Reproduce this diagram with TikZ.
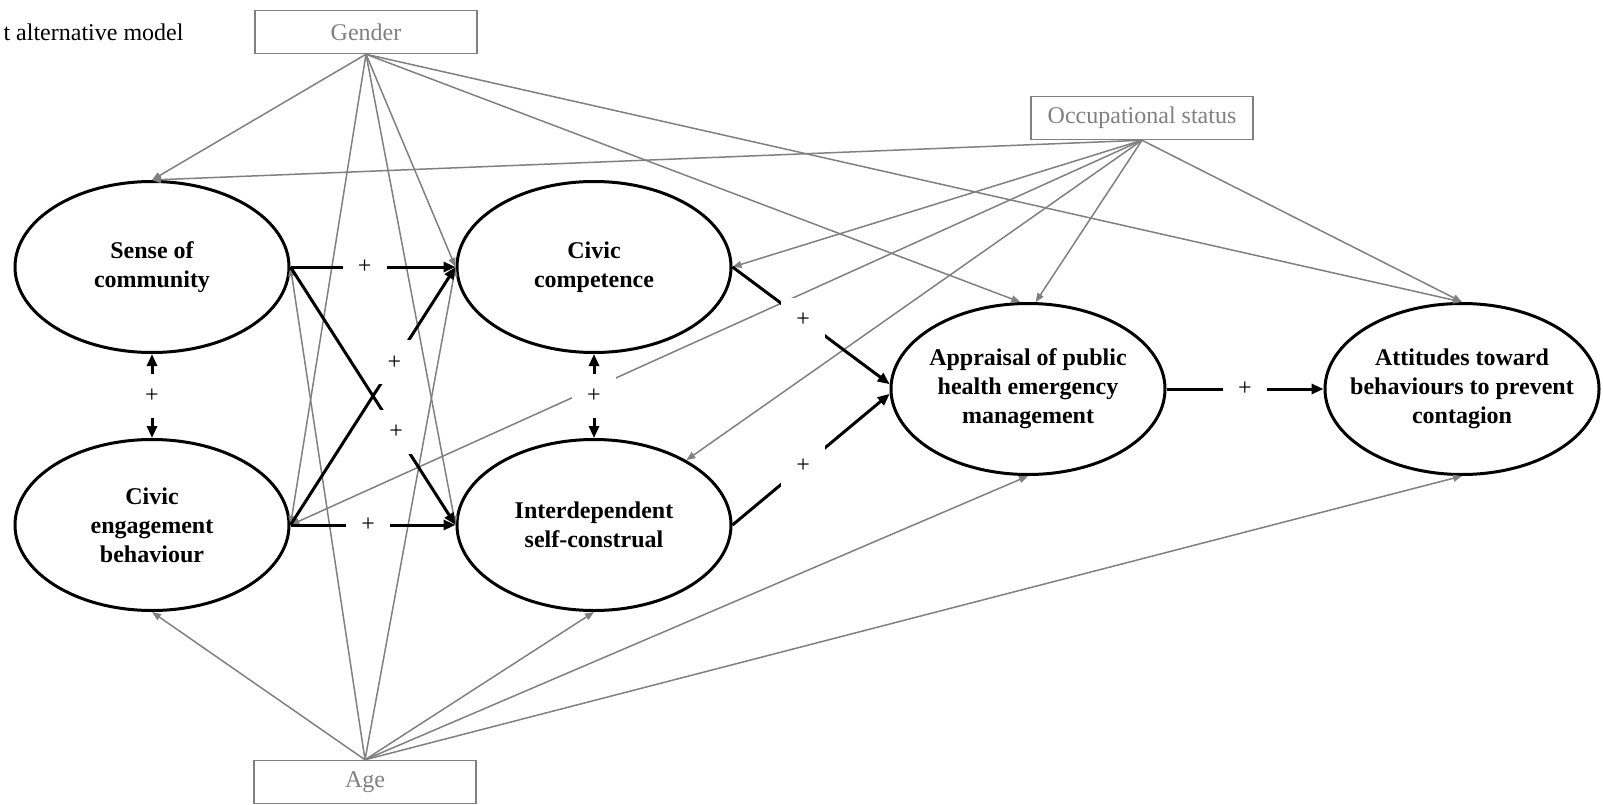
\documentclass[tikz,border=0pt]{standalone}
\usepackage{fontspec}
\setmainfont{Liberation Serif}
\usetikzlibrary{positioning,arrows.meta,shapes.geometric}
\definecolor{covgray}{RGB}{128,128,128}

\begin{document}
\begin{tikzpicture}[x=1pt, y=-1pt,
    latentnode/.style={ellipse, draw=black, fill=white, line width=3pt, minimum width=274pt, minimum height=171pt, inner xsep=-30pt, inner ysep=0pt, align=center, font=\fontsize{24}{29}\selectfont\bfseries, execute at begin node={\rule{0pt}{25pt}}},
    covnode/.style={rectangle, draw=covgray, line width=1.5pt, text=covgray, minimum width=222pt, minimum height=43pt, font=\fontsize{24}{29}\selectfont},
    signnode/.style={fill=white, inner sep=0pt, minimum size=44pt, font=\fontsize{24}{29}\selectfont},
    covpath/.style={->, >={Triangle[length=9pt, width=7pt]}, draw=covgray, line width=1.5pt},
    mainpath/.style={->, >={Triangle[length=12pt, width=10pt]}, draw=black, line width=3pt},
    bothpath/.style={<->, >={Triangle[length=12pt, width=10pt]}, draw=black, line width=3pt}
    ]
        \useasboundingbox (0,0) rectangle (1603,805);

        %Nodes
        \node[anchor=base west, font=\fontsize{24}{29}\selectfont]
            (title) at (0,41) {t alternative model};
        \node[latentnode]
            (soc) at (152,267) {Sense of\\community};
        \node[latentnode]
            (ceb) [below=84pt of soc] {Civic\\engagement\\behaviour};
        \node[latentnode]
            (cc) [right=165pt of soc] {Civic\\competence};
        \node[latentnode]
            (isc) [below=84pt of cc] {Interdependent\\self-construal};
        \node[latentnode]
            (app) at (1028,389) {Appraisal of public\\health emergency\\management};
        \node[latentnode]
            (att) [right=157pt of app] {Attitudes toward\\behaviours to prevent\\contagion};
        \node[covnode]
            (gender) at (366,32) {Gender};
        \node[covnode]
            (occ) at (1142,118) {Occupational status};
        \node[covnode]
            (age) at (365,782) {Age};

        %Covariate lines
        \draw[covpath] (gender.south) -- (soc.north);
        \draw[covpath] (gender.south) -- (ceb.east);
        \draw[covpath] (gender.south) -- (cc.west);
        \draw[covpath] (gender.south) -- (isc.west);
        \draw[covpath] (gender.south) -- (app.95);
        \draw[covpath] (gender.south) -- (att.north);
        \draw[covpath] (occ.south) -- (soc.north);
        \draw[covpath] (occ.south) -- (ceb.east);
        \draw[covpath] (occ.south) -- (cc.east);
        \draw[covpath] (occ.south) -- (isc);
        \draw[covpath] (occ.south) -- (app.85);
        \draw[covpath] (occ.south) -- (att.north);
        \draw[covpath] (age.north) -- (ceb.south);
        \draw[covpath] (age.north) -- (soc.east);
        \draw[covpath] (age.north) -- (cc.west);
        \draw[covpath] (age.north) -- (isc.south);
        \draw[covpath] (age.north) -- (app.south);
        \draw[covpath] (age.north) -- (att.south);

        %Lines
        \draw[bothpath]
            (soc.south) -- node[signnode] {+} (ceb.north);
        \draw[bothpath]
            (cc.south) -- node[signnode] {+} (isc.north);
        \draw[mainpath]
            (soc.east) -- node[signnode, pos=.45] {+} (cc.west);
        \draw[mainpath]
            (soc.east) -- node[signnode, pos=.64] {+} (isc.west);
        \draw[mainpath]
            (ceb.east) -- node[signnode, pos=.63] {+} (cc.west);
        \draw[mainpath]
            (ceb.east) -- node[signnode, pos=.47] {+} (isc.west);
        \draw[mainpath]
            (cc.east) -- node[signnode, pos=.45] {+} (app.178);
        \draw[mainpath]
            (isc.east) -- node[signnode, pos=.45] {+} (app.182);
        \draw[mainpath]
            (app.east) -- node[signnode] {+} (att.west);
    \end{tikzpicture}
\end{document}
